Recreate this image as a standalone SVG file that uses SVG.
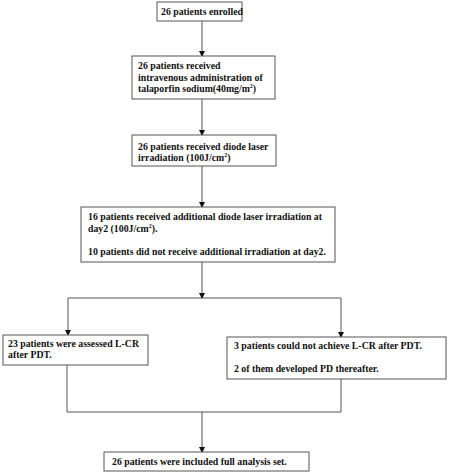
<svg xmlns="http://www.w3.org/2000/svg" width="450" height="476" viewBox="0 0 450 476">
<style>
.box{fill:#fff;stroke:#555;stroke-width:1}
.t{font-family:"Liberation Serif","Times New Roman",serif;font-weight:bold;font-size:9.8px;fill:#111}
.c{fill:none;stroke:#555;stroke-width:1}
</style>
<defs>
<marker id="ah" markerWidth="6" markerHeight="6" refX="5" refY="3" orient="auto" markerUnits="userSpaceOnUse">
<path d="M0,0 L6,3 L0,6 z" fill="#111"/>
</marker>
</defs>
<rect width="450" height="476" fill="#fff"/>
<g id="connectors">
<line class="c" x1="202" y1="21" x2="202" y2="56" marker-end="url(#ah)"/>
<line class="c" x1="202" y1="99" x2="202" y2="135" marker-end="url(#ah)"/>
<line class="c" x1="202" y1="166" x2="202" y2="207" marker-end="url(#ah)"/>
<line class="c" x1="202" y1="262" x2="202" y2="298" marker-end="url(#ah)"/>
<polyline class="c" points="68,298 341,298"/>
<line class="c" x1="68" y1="298" x2="68" y2="335" marker-end="url(#ah)"/>
<line class="c" x1="341" y1="298" x2="341" y2="337" marker-end="url(#ah)"/>
<polyline class="c" points="67,365 67,412 341,412 341,379"/>
<line class="c" x1="202" y1="412" x2="202" y2="452" marker-end="url(#ah)"/>
</g>
<g id="n1">
<rect class="box" x="157" y="2" width="85" height="19"/>
<text class="t" x="161" y="15">26 patients enrolled</text>
</g>
<g id="n2">
<rect class="box" x="132" y="56" width="143" height="43"/>
<text class="t" x="138" y="69">26 patients received</text>
<text class="t" x="138" y="80.5">intravenous administration of</text>
<text class="t" x="138" y="92">talaporfin sodium(40mg/m<tspan font-size="6" dy="-4">2</tspan><tspan dy="4">)</tspan></text>
</g>
<g id="n3">
<rect class="box" x="132" y="135" width="144" height="31"/>
<text class="t" x="138" y="150">26 patients received diode laser</text>
<text class="t" x="138" y="161">irradiation (100J/cm<tspan font-size="6" dy="-4">2</tspan><tspan dy="4">)</tspan></text>
</g>
<g id="n4">
<rect class="box" x="81" y="207" width="254" height="55"/>
<text class="t" x="88" y="220">16 patients received additional diode laser irradiation at</text>
<text class="t" x="88" y="232">day2 (100J/cm<tspan font-size="6" dy="-4">2</tspan><tspan dy="4">).</tspan></text>
<text class="t" x="88" y="255">10 patients did not receive additional irradiation at day2.</text>
</g>
<g id="n5">
<rect class="box" x="3" y="335" width="145" height="30"/>
<text class="t" x="8" y="347">23 patients were assessed L-CR</text>
<text class="t" x="8" y="358">after PDT.</text>
</g>
<g id="n6">
<rect class="box" x="227" y="337" width="219" height="42"/>
<text class="t" x="234" y="349">3 patients could not achieve L-CR after PDT.</text>
<text class="t" x="234" y="372">2 of them developed PD thereafter.</text>
</g>
<g id="n7">
<rect class="box" x="104" y="452" width="205" height="19"/>
<text class="t" x="112" y="465">26 patients were included full analysis set.</text>
</g>
</svg>
